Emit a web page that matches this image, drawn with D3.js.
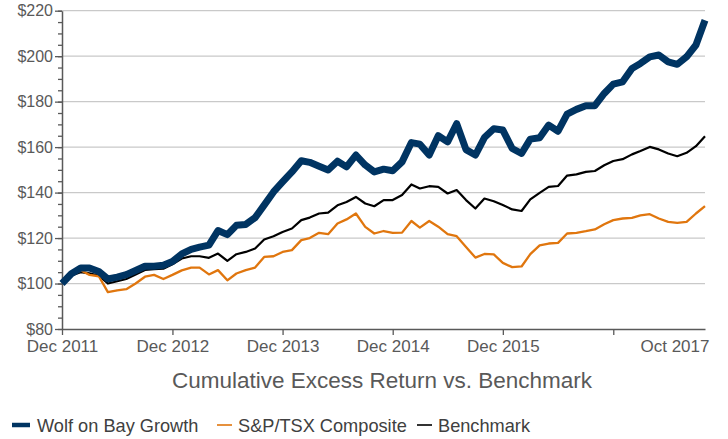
<!DOCTYPE html>
<html>
<head>
<meta charset="utf-8">
<script src="https://cdn.jsdelivr.net/npm/d3@7"></script>
<style>
  html, body { margin: 0; padding: 0; background: #fff; }
  svg text { font-family: "Liberation Sans", Arial, sans-serif; fill: #595959; }
</style>
</head>
<body>
<svg id="chart" width="728" height="439"></svg>
<script>
// monthly points, Dec 2011 .. Oct 2017
const startMonth = new Date(2011, 11, 1);

const wolfGrowth = [
  100, 104.3, 106.8, 106.8, 105.3, 102, 102.8, 103.9, 105.7, 107.6,
  107.6, 108, 109.7, 113, 115, 116, 116.9, 123.3, 121.5, 125.6,
  126, 129, 134.5, 140.3, 144.7, 149.1, 154, 153.3, 151.6, 149.9,
  153.8, 151.3, 156.5, 152.1, 149.1, 150.3, 149.6, 153.5, 162, 161.3,
  156.5, 165, 162.3, 170.3, 158.9, 156.5, 164.2, 168.1, 167.5, 159.4,
  157.2, 163.5, 164.1, 169.7, 167, 174.5, 176.6, 178.2, 178.2, 183.6,
  187.7, 188.7, 194.6, 196.8, 199.7, 200.5, 197.5, 196.4, 199.7, 204.9,
  215.8
];

const tsxComposite = [
  100.5, 104, 105.8, 103.8, 103.2, 96.2, 97, 97.5, 100, 103,
  103.8, 102, 103.8, 105.8, 107, 107, 104, 105.9, 101.4, 104.4,
  105.9, 107, 111.7, 112, 113.9, 114.7, 119.1, 120, 122.3, 121.7,
  126.4, 128.2, 130.8, 124.9, 122, 123.1, 122.3, 122.4, 127.5, 124.6,
  127.5, 125, 121.7, 120.8, 116.1, 111.4, 113, 112.8, 109.1, 107.2,
  107.5, 112.9, 116.8, 117.6, 117.9, 122, 122.3, 123, 123.8, 126.1,
  127.9, 128.6, 128.9, 130, 130.5, 128.6, 127.1, 126.7, 127.1, 130.8,
  134
];

const benchmark = [
  100.5, 103.5, 105, 104.5, 103.5, 100, 101, 102, 104, 106,
  106.3, 106.5, 108.5, 111, 112, 112, 111.3, 113.2, 110, 112.9,
  113.9, 115.4, 119.4, 120.8, 122.7, 124.2, 127.9, 129, 130.8, 131.2,
  134.4, 135.9, 138.1, 135.2, 134, 136.7, 136.7, 138.9, 143.6, 141.8,
  142.8, 142.5, 139.6, 141.1, 136.7, 133, 137.4, 136.2, 134.5, 132.6,
  131.9, 137, 139.9, 142.5, 142.9, 147.5, 148, 149.1, 149.5, 152,
  153.9, 154.7, 156.8, 158.3, 160.1, 159, 157.2, 156, 157.5, 160.4,
  164.8
];

const seriesNames = ["Wolf on Bay Growth", "S&P/TSX Composite", "Benchmark"];
const xTickLabels = ["Dec 2011", "Dec 2012", "Dec 2013", "Dec 2014", "Dec 2015", "", "Oct 2017"];
const yTickValues = [80, 100, 120, 140, 160, 180, 200, 220];
const chartTitle = "Cumulative Excess Return vs. Benchmark";

// ---- layout ----
const svg = d3.select("#chart");
const plotLeft = 62, plotRight = 705, plotTop = 10.7, plotBottom = 329;

const months = wolfGrowth.map((_, i) => d3.timeMonth.offset(startMonth, i));
const xTickDates = [0, 12, 24, 36, 48, 60, 70].map(i => months[i]);

const x = d3.scaleTime()
    .domain([months[0], months[months.length - 1]])
    .range([plotLeft, plotRight]);

const y = d3.scaleLinear()
    .domain([80, 220])
    .range([plotBottom, plotTop]);

// gridlines
svg.append("g")
    .selectAll("line")
    .data(yTickValues.slice(1))
    .join("line")
    .attr("x1", plotLeft).attr("x2", plotRight)
    .attr("y1", d => y(d)).attr("y2", d => y(d))
    .attr("stroke", "#c9c9c9")
    .attr("stroke-width", 1.3);

// y axis: minor ticks every $5
const yMinor = svg.append("g")
    .attr("transform", `translate(${plotLeft},0)`)
    .call(d3.axisLeft(y).tickValues(d3.range(80, 221, 5)).tickSize(4).tickFormat(""));
yMinor.select(".domain").remove();
yMinor.selectAll("line").attr("stroke", "#595959").attr("stroke-width", 1.3);

const yAxis = svg.append("g")
    .attr("transform", `translate(${plotLeft},0)`)
    .call(d3.axisLeft(y).tickValues(yTickValues).tickSize(7).tickSizeOuter(0)
        .tickPadding(2).tickFormat(d => "$" + d));
yAxis.select(".domain").attr("stroke", "#595959").attr("stroke-width", 1.5);
yAxis.selectAll("line").attr("stroke", "#595959").attr("stroke-width", 1.3);
yAxis.selectAll("text").attr("font-size", 16).style("fill", "#595959");

// x axis
const xAxis = svg.append("g")
    .attr("transform", `translate(0,${plotBottom})`)
    .call(d3.axisBottom(x).tickValues(xTickDates).tickSize(6).tickSizeOuter(0)
        .tickPadding(5).tickFormat((d, i) => xTickLabels[i]));
xAxis.select(".domain").attr("stroke", "#595959").attr("stroke-width", 1.5);
xAxis.selectAll("line").attr("stroke", "#595959").attr("stroke-width", 1.3);
xAxis.selectAll("text").attr("font-size", 17).style("fill", "#595959");
const lastTick = xAxis.selectAll(".tick").filter((d, i) => i === xTickDates.length - 1);
lastTick.select("text").attr("text-anchor", "end").attr("dx", 4);
lastTick.select("line").remove();

// lines
const series = [
  { name: seriesNames[0], values: wolfGrowth, color: "#003462", width: 7 },
  { name: seriesNames[1], values: tsxComposite, color: "#e0760e", width: 2.3 },
  { name: seriesNames[2], values: benchmark, color: "#000000", width: 2.2 }
];

const line = d3.line()
    .x((d, i) => x(months[i]))
    .y(d => y(d));

svg.append("g")
    .selectAll("path")
    .data(series.slice().reverse())
    .join("path")
    .attr("d", d => line(d.values))
    .attr("fill", "none")
    .attr("stroke", d => d.color)
    .attr("stroke-width", d => d.width)
    .attr("stroke-linejoin", "round");

// title
svg.append("text")
    .attr("x", 382)
    .attr("y", 388)
    .attr("text-anchor", "middle")
    .attr("font-size", 22.5)
    .text(chartTitle);

// legend
const legendX = [12, 217, 417];
const legend = svg.append("g")
    .selectAll("g")
    .data(series)
    .join("g")
    .attr("transform", (d, i) => `translate(${legendX[i]},425)`);

legend.append("line")
    .attr("x1", 0).attr("x2", (d, i) => i === 0 ? 18 : 15)
    .attr("y1", 0).attr("y2", 0)
    .attr("stroke", d => d.color)
    .attr("stroke-width", (d, i) => i === 0 ? 4.5 : 1.6);

legend.append("text")
    .attr("x", (d, i) => i === 0 ? 25 : 21)
    .attr("y", 6.5)
    .attr("font-size", 18.2)
    .style("fill", "#404040")
    .text(d => d.name);
</script>
</body>
</html>
